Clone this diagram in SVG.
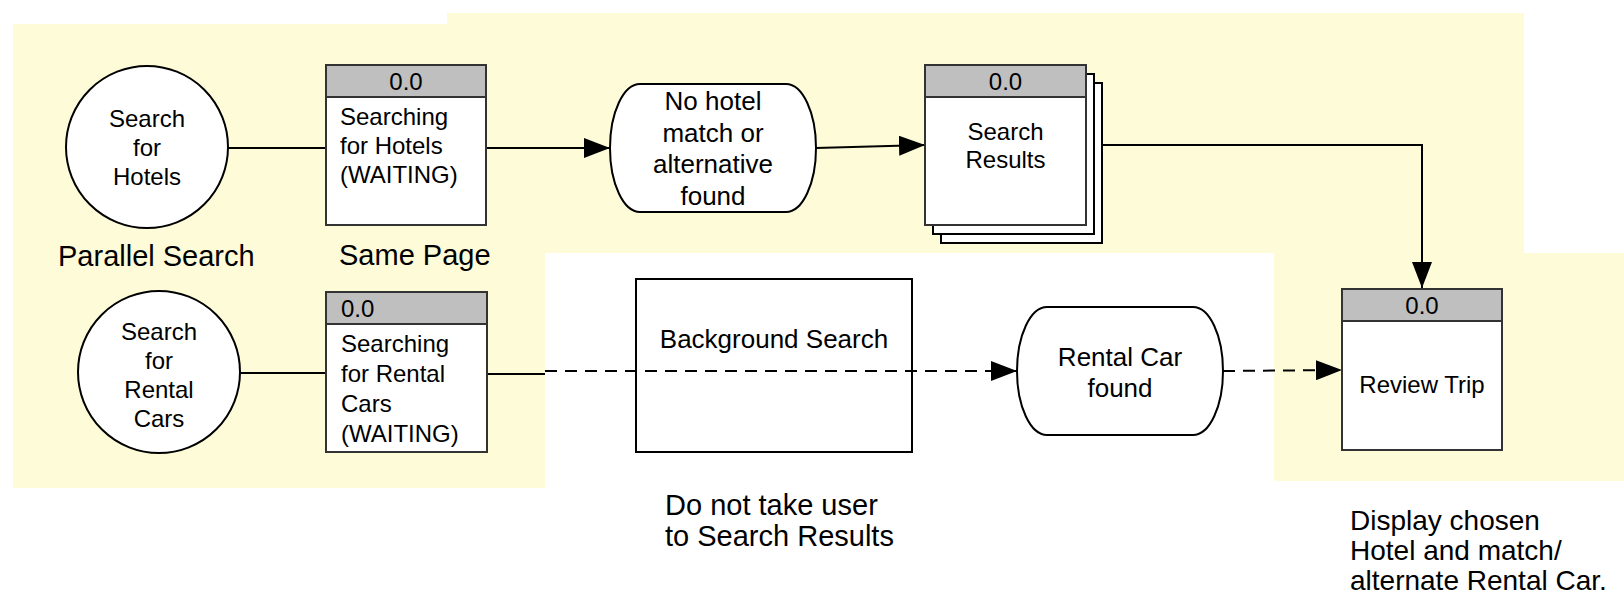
<svg xmlns="http://www.w3.org/2000/svg" width="1624" height="594" viewBox="0 0 1624 594">
<style>
text{font-family:"Liberation Sans",Arial,Helvetica,sans-serif;fill:#000}
.t24{font-size:24px}
.t26{font-size:26px}
.t28{font-size:28px}
.t29{font-size:29px}
.mid{text-anchor:middle}
.shape{fill:#fff;stroke:#000;stroke-width:2}
.box{fill:#fff;stroke:#333;stroke-width:2}
.hdr{fill:#bfbfbf;stroke:#333;stroke-width:2}
.ln{fill:none;stroke:#000;stroke-width:2}
.dash{fill:none;stroke:#000;stroke-width:2;stroke-dasharray:12 8}
</style>
<defs>
<marker id="arr" viewBox="0 0 26 20" refX="26" refY="10" markerWidth="26" markerHeight="20" markerUnits="userSpaceOnUse" orient="auto">
<path d="M0,0 L26,10 L0,20 Z" fill="#000"/>
</marker>
</defs>
<path id="background" d="M13,24 H447 V13 H1524 V253 H1624 V481 H1274 V253 H545 V488 H13 Z" fill="#fefbd8"/>
<g id="connectors">
<line class="ln" x1="228" y1="148" x2="326" y2="148"/>
<line class="ln" x1="487" y1="148" x2="610" y2="148" marker-end="url(#arr)"/>
<line class="ln" x1="816" y1="148" x2="925" y2="145" marker-end="url(#arr)"/>
<polyline class="ln" points="1086,145 1422,145 1422,288" marker-end="url(#arr)"/>
<line class="ln" x1="240" y1="373" x2="326" y2="373"/>
<line class="ln" x1="487" y1="374" x2="545" y2="374"/>
<line class="dash" x1="545" y1="371" x2="1017" y2="371" marker-end="url(#arr)"/>
<line class="dash" x1="1223" y1="371" x2="1342" y2="370" marker-end="url(#arr)"/>
</g>
<g id="search-hotels">
<circle class="shape" cx="147" cy="147" r="81"/>
<text class="t24 mid" x="147" y="127">Search</text>
<text class="t24 mid" x="147" y="156">for</text>
<text class="t24 mid" x="147" y="185">Hotels</text>
</g>
<g id="searching-hotels">
<rect class="box" x="326" y="65" width="160" height="160"/>
<rect class="hdr" x="326" y="65" width="160" height="32"/>
<text class="t24 mid" x="406" y="90">0.0</text>
<text class="t24" x="340" y="125">Searching</text>
<text class="t24" x="340" y="154">for Hotels</text>
<text class="t24" x="340" y="183">(WAITING)</text>
</g>
<g id="no-hotel-match">
<path class="shape" d="M640,84 H786 A30,64 0 0 1 786,212 H640 A30,64 0 0 1 640,84 Z"/>
<text class="t26 mid" x="713" y="110">No hotel</text>
<text class="t26 mid" x="713" y="141.5">match or</text>
<text class="t26 mid" x="713" y="173">alternative</text>
<text class="t26 mid" x="713" y="204.5">found</text>
</g>
<g id="search-results">
<rect class="shape" x="941" y="83" width="161" height="160"/>
<rect class="shape" x="933" y="74" width="161" height="160"/>
<rect class="box" x="925" y="65" width="161" height="160"/>
<rect class="hdr" x="925" y="65" width="161" height="32"/>
<text class="t24 mid" x="1005.5" y="90">0.0</text>
<text class="t24 mid" x="1005.5" y="140">Search</text>
<text class="t24 mid" x="1005.5" y="168">Results</text>
</g>
<g id="label-parallel">
<text class="t29" x="58" y="266">Parallel Search</text>
</g>
<g id="label-same-page">
<text class="t29" x="339" y="265">Same Page</text>
</g>
<g id="search-rental">
<circle class="shape" cx="159" cy="372" r="81"/>
<text class="t24 mid" x="159" y="340">Search</text>
<text class="t24 mid" x="159" y="369">for</text>
<text class="t24 mid" x="159" y="398">Rental</text>
<text class="t24 mid" x="159" y="427">Cars</text>
</g>
<g id="searching-rental">
<rect class="box" x="326" y="292" width="161" height="160"/>
<rect class="hdr" x="326" y="292" width="161" height="32"/>
<text class="t24" x="341" y="317">0.0</text>
<text class="t24" x="341" y="352">Searching</text>
<text class="t24" x="341" y="382">for Rental</text>
<text class="t24" x="341" y="412">Cars</text>
<text class="t24" x="341" y="442">(WAITING)</text>
</g>
<g id="background-search">
<rect x="636" y="279" width="276" height="173" style="fill:none;stroke:#000;stroke-width:2"/>
<text class="t26 mid" x="774" y="348">Background Search</text>
</g>
<g id="rental-car-found">
<path class="shape" d="M1047,307 H1193 A30,64 0 0 1 1193,435 H1047 A30,64 0 0 1 1047,307 Z"/>
<text class="t26 mid" x="1120" y="366">Rental Car</text>
<text class="t26 mid" x="1120" y="397">found</text>
</g>
<g id="review-trip">
<rect class="box" x="1342" y="289" width="160" height="161"/>
<rect class="hdr" x="1342" y="289" width="160" height="32"/>
<text class="t24 mid" x="1422" y="314">0.0</text>
<text class="t24 mid" x="1422" y="393">Review Trip</text>
</g>
<g id="label-do-not-take">
<text class="t29" x="665" y="515">Do not take user</text>
<text class="t29" x="665" y="546">to Search Results</text>
</g>
<g id="label-display">
<text class="t28" x="1350" y="530">Display chosen</text>
<text class="t28" x="1350" y="560">Hotel and match/</text>
<text class="t28" x="1350" y="590">alternate Rental Car.</text>
</g>
</svg>
